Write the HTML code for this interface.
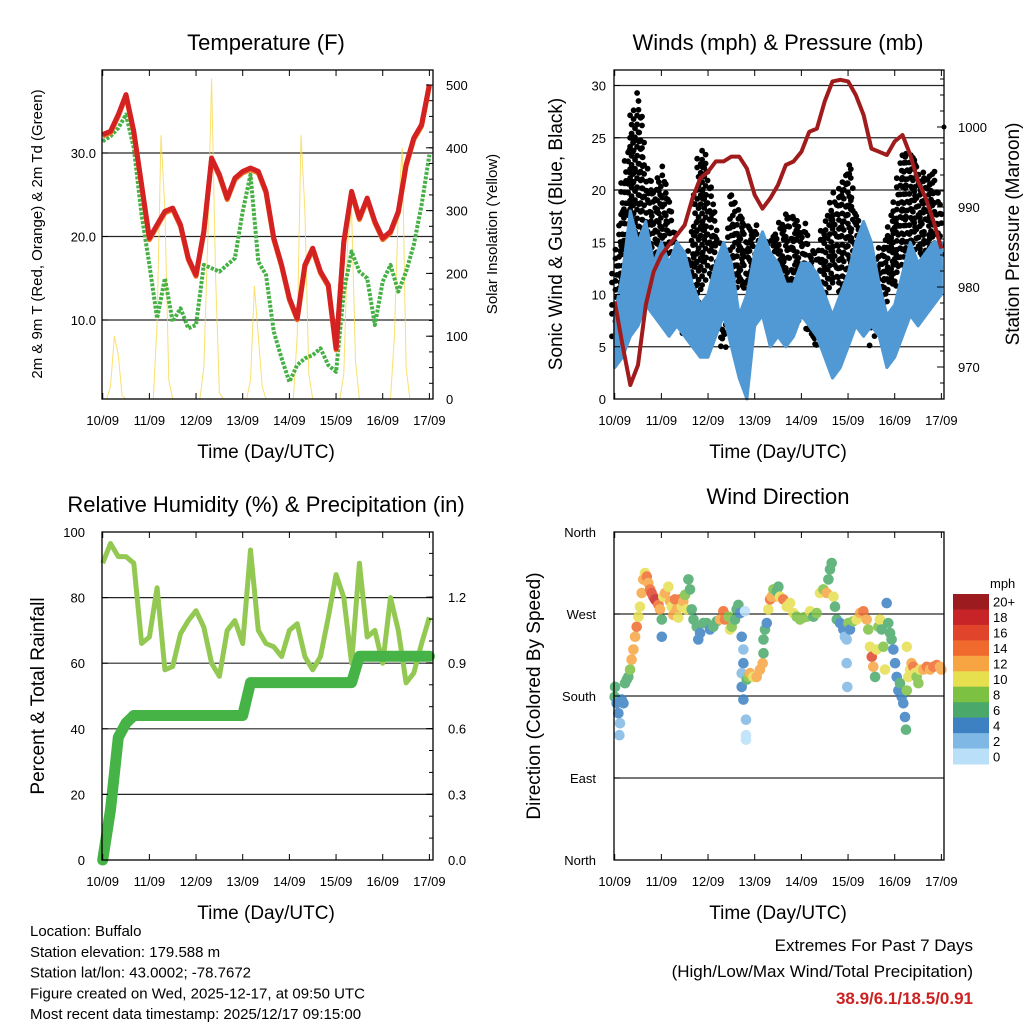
<!DOCTYPE html>
<html><head><meta charset="utf-8"><style>
body{margin:0;background:#fff}
svg{display:block;font-family:"Liberation Sans",sans-serif}
</style></head><body>
<svg id="c" width="1024" height="1024" viewBox="0 0 1024 1024"></svg>
<script>
// ---- data (4-hourly from 10/09 00 UTC) ----
const dayLabels=["10/09","11/09","12/09","13/09","14/09","15/09","16/09","17/09"];
const tempF=[32.2,32.6,34.6,37,32.6,26.2,19.8,21.4,23,23.4,21.4,17.4,15.4,20.6,29.4,27.4,24.6,27,27.8,28.2,27.8,25.4,19.8,16.6,12.6,10.2,16.6,18.6,15.8,14.2,6.6,19.4,25.4,22.2,24.6,21.8,19.8,20.6,23,28.6,31.8,33.4,38.2];
const dewF=[31.4,32,33,34.6,30.6,22.6,16.6,10.2,15,9.8,11.4,9,9.4,16.6,16.2,15.8,16.6,17.4,23,27.4,17,15.4,8.6,5.4,2.6,4.6,5.4,5.8,6.6,4.6,3.8,13.4,18.2,15.8,15,9.4,14.6,16.6,13.4,15.8,19,23.8,29.8];
// solar every 2 hours
const solar=[0,0,20,100,70,5,0,0,0,0,0,0, 0,0,120,420,300,30,0,0,0,0,0,0, 0,0,50,250,510,200,10,0,0,0,0,0, 0,0,30,180,100,20,0,0,0,0,0,0, 0,0,100,420,300,40,0,0,0,0,0,0, 0,0,40,250,300,60,0,0,0,0,0,0, 0,0,0,100,300,400,50,0,0,0,0,0, 0];
const pressure=[978.2,972.75,967.75,970.25,977.75,981.9,984,985.25,986.5,987.75,991.1,993.6,994.4,995.7,995.7,996.3,996.3,994.8,991.5,989.8,991.1,992.75,995.25,995.7,996.9,999.4,999.8,1003.2,1005.7,1005.9,1005.7,1004,1001.5,997.3,996.9,996.5,998.2,999,996.5,993.2,991.1,988.2,984.8];
const windLo=[3,4,6,7,9,8,7,6,7,6,5,4,4,6,8,5,2,0,7,8,5,6,5,6,8,7,6,4,2,3,5,7,6,7,6,3,4,6,8,7,8,9,10];
const windHi=[8,12,18,15,17,13,15,13,15,14,11,9,10,13,15,13,8,10,14,16,14,13,11,11,13,13,12,10,8,10,12,15,17,15,11,8,9,12,15,13,14,15,15];
const gustLo=[6,8,12,15,12,10,10,9,7,6,7,10,13,10,4,9,11,10,9,8,7,8,9,7,8,6,5,9,12,10,7,7,9,5,8,10,11,13,15,14,13,14,12];
const gustHi=[12,20,26,29,22,20,22,19,14,12,17,24,22,17,10,20,18,16,17,14,15,16,18,17,17,15,13,17,19,21,23,18,16,12,14,16,19,23,24,22,21,22,18];
const rh=[90.5,96.5,92.5,92.5,90.5,66,68,83,58,59,69,73,76,71,60,56,70,73,66,94.5,70,66,65,62,70,72,62,58,62,74,87,80,60,90.5,68,70,60,80,70,54,57,66,74];
const rain=[0,0.23,0.56,0.625,0.66,0.66,0.66,0.66,0.66,0.66,0.66,0.66,0.66,0.66,0.66,0.66,0.66,0.66,0.66,0.81,0.81,0.81,0.81,0.81,0.81,0.81,0.81,0.81,0.81,0.81,0.81,0.81,0.81,0.93,0.93,0.93,0.93,0.93,0.93,0.93,0.93,0.93,0.93];
const dirHours=[0,0.2,1.0,1.9,2.7,3.6,4.5,2.4,5.3,6.2,7.0,7.9,8.7,9.6,10.5,11.3,12.2,13.0,13.9,14.7,15.6,16.5,17.3,18.2,19.0,19.9,20.7,21.6,22.5,23.3,24.2,24.2,25.0,25.9,27.6,28.5,29.3,30.2,31.0,31.9,32.7,33.6,34.5,35.3,36.2,37.0,37.9,38.7,39.6,40.5,42.2,43.0,43.9,45.6,47.3,49.0,50.7,52.5,54.2,55.9,56.7,58.5,59.3,60.2,61.9,62.7,63.6,64.5,65.3,66.2,67.0,66.2,65.3,65.3,66.2,67.5,67.5,67.5,67.9,68.7,69.6,71.3,73.0,74.7,76.1,76.5,76.5,77.3,78.2,79.0,79.9,80.7,81.6,82.5,83.3,84.2,85.0,86.7,88.5,90.2,91.9,93.6,95.3,97.0,98.7,100.5,102.2,103.9,105.6,107.3,109.0,109.9,110.7,111.6,112.5,113.3,114.2,115.9,117.6,118.4,119.3,120.2,119.3,119.6,121.0,122.7,124.4,126.2,127.9,129.6,130.4,131.3,132.2,133.0,133.9,134.7,135.6,136.4,137.3,138.2,139.0,139.9,140.7,141.6,142.4,143.3,144.2,145.0,145.9,146.7,147.6,148.4,149.3,149.8,150.2,151.0,151.9,152.7,153.6,154.4,155.3,156.2,157.0,158.7,160.5,162.2,163.9,165.6,167.3,168,150.2];
const dirDeg=[179,190,172,161,150,176,172,137,194,198,201,209,220,231,245,256,267,278,293,308,315,311,304,297,293,289,286,284,280,275,264,245,289,293,300,284,278,269,286,275,266,286,278,284,291,275,308,297,275,264,256,242,249,260,260,253,256,262,264,273,264,267,253,256,264,275,280,271,245,231,273,216,205,190,176,154,137,132,198,201,205,201,201,209,216,227,242,253,260,275,286,289,297,289,295,300,289,286,278,282,271,267,264,266,267,273,267,271,293,297,293,308,319,326,289,278,264,260,253,245,242,260,216,190,253,262,264,271,273,264,253,234,223,212,201,231,256,264,253,234,209,282,260,249,242,231,216,201,186,194,179,172,157,143,186,201,209,216,212,205,201,194,209,209,212,209,212,214,212,209,234];
const dirSpeed=[6,6,4,4,3,4,4,2,6,6,7,9,13,13,12,14,10,10,12,12,10,15,13,15,16,17,18,19,15,12,7,4,11,12,10,13,10,12,14,12,10,15,11,12,9,10,6,7,7,7,6,4,4,6,6,4,6,7,13,15,15,9,10,9,6,6,6,4,4,3,1,4,3,4,4,3,1,0,7,8,12,10,12,12,13,7,7,6,4,10,15,12,9,12,6,6,10,15,10,11,10,8,8,8,8,10,7,8,10,9,12,7,6,6,10,6,6,4,5,2,2,8,2,2,4,8,10,12,14,12,8,10,16,13,7,10,9,10,7,8,10,4,6,7,6,4,4,4,4,6,4,4,4,6,8,10,11,13,14,10,9,8,10,13,14,13,14,15,13,12,10];
const speedBins=["0","2","4","6","8","10","12","14","16","18","20+"];
const speedColors=["#b9e0f8","#7fb8e4","#3d81c3","#4aa96a","#7dc142","#e6e04f","#f7a542","#f06a2e","#e0452c","#c72428","#9c1b1f"];

const NS="http://www.w3.org/2000/svg";
const svg=document.getElementById('c');
function el(tag,attrs,parent,txt){const e=document.createElementNS(NS,tag);for(const k in attrs)e.setAttribute(k,attrs[k]);if(txt!==undefined)e.textContent=txt;(parent||svg).appendChild(e);return e;}
function text(x,y,s,size,anchor,extra){const t=el('text',Object.assign({x:x,y:y,'font-size':size,'text-anchor':anchor||'middle',fill:'#000'},extra||{}),svg,s);return t;}
const hours4=tempF.map((_,i)=>i*4);

function panel(name){
  const g=el('g',{});
  
  
  return g;
}
function frame(g,x0,x1,y0,y1,dx0){
  el('rect',{x:x0,y:y0,width:x1-x0,height:y1-y0,fill:'none',stroke:'#000','stroke-width':1.3},g);
  for(let d=0;d<8;d++){const x=dx0+d*46.67;
    el('line',{x1:x,x2:x,y1:y1,y2:y1-6,stroke:'#000'},g);
    el('line',{x1:x,x2:x,y1:y0,y2:y0+6,stroke:'#000'},g);
    const t=text(x,y1+26,dayLabels[d],13);
    
    
  }
}
function grid(g,x0,x1,y){el('line',{x1:x0,x2:x1,y1:y,y2:y,stroke:'#000','stroke-width':1.2,opacity:0.85},g);}
function pathD(xs,ys){return xs.map((x,i)=>(i?'L':'M')+x.toFixed(1)+','+ys[i].toFixed(1)).join('');}

// ===== Panel 1 Temperature =====
{
const X0=102,X1=433,Y0=70,Y1=399,DX=102.7;
const xs=h=>DX+h/24*46.67;
const yT=v=>320-(v-10)*8.35;
const yS=v=>399-v*0.628;
const g=panel('temperature-chart');
[10,20,30].forEach(v=>grid(g,X0,X1,yT(v)));
const sh=solar.map((_,i)=>i*2);
const sp=el('path',{d:pathD(sh.map(xs),solar.map(yS)),fill:'none',stroke:'#f7d84a','stroke-width':1,opacity:0.8},g);


const dp=el('path',{d:pathD(hours4.map(xs),dewF.map(yT)),fill:'none',stroke:'#45b044','stroke-width':4,'stroke-dasharray':'3 1.5','stroke-linejoin':'round'},g);


const op=el('path',{d:pathD(hours4.map(xs),tempF.map(v=>yT(v)+1.5)),fill:'none',stroke:'#f0782a','stroke-width':5,'stroke-linejoin':'round'},g);


const tp=el('path',{d:pathD(hours4.map(xs),tempF.map(yT)),fill:'none',stroke:'#d42121','stroke-width':5,'stroke-linejoin':'round'},g);


frame(g,X0,X1,Y0,Y1,DX);
[10,20,30].forEach(v=>{const t=text(96,yT(v)+5,v.toFixed(1),13,'end');el('line',{x1:X0,x2:X0+6,y1:yT(v),y2:yT(v),stroke:'#000'},g);});
[0,100,200,300,400,500].forEach(v=>{const t=text(446,yS(v)+5,String(v),13,'start');el('line',{x1:X1,x2:X1-7,y1:yS(v),y2:yS(v),stroke:'#000'},g);});
for(let v=25;v<=500;v+=25)el('line',{x1:X1,x2:X1-4,y1:yS(v),y2:yS(v),stroke:'#000'},g);
let t=text(266,50,'Temperature (F)',22);
t=text(266,458,'Time (Day/UTC)',19);
t=text(0,0,'2m & 9m T (Red, Orange) & 2m Td (Green)',15,'middle',{transform:'translate(42,234) rotate(-90)'});
t=text(0,0,'Solar Insolation (Yellow)',15,'middle',{transform:'translate(497,234) rotate(-90)'});
}

// ===== Panel 2 Winds =====
{
const X0=614,X1=944,Y0=70,Y1=399,DX=614.7;
const xs=h=>DX+h/24*46.67;
const yW=v=>399-v*10.45;
const yP=v=>127+(1000-v)*8.0;
const g=panel('winds-pressure-chart');
[5,10,15,20,25,30].forEach(v=>grid(g,X0,X1,yW(v)));
const gg=el('g',{fill:'#000'},g);


for(let i=0;i<gustLo.length-1;i++){
  for(let s=0;s<6;s++){const f=s/6;
    const lo=gustLo[i]+(gustLo[i+1]-gustLo[i])*f, hi=gustHi[i]+(gustHi[i+1]-gustHi[i])*f;
    const h=(i+f)*4;
    for(let k=0;;k++){
      const v=lo+k*1.5+((i*7+s*3+k*5)%10)/10*1.3;
      if(v>hi+0.3)break;
      const dx=(((i*3+s*11+k*7)%7)-3)*0.9;
      el('circle',{cx:(xs(h)+dx).toFixed(1),cy:yW(v).toFixed(1),r:2.9},gg);
    }
  }
}
const hb=hours4.map(xs);
const band='M'+hb.map((x,i)=>x.toFixed(1)+','+yW(windHi[i]).toFixed(1)).join('L')+'L'+hb.map((x,i)=>x.toFixed(1)+','+yW(windLo[i]).toFixed(1)).reverse().join('L')+'Z';
const wb=el('path',{d:band,fill:'#5199d4',stroke:'#5199d4','stroke-width':3,'stroke-linejoin':'round'},g);


const pp=el('path',{d:pathD(hb,pressure.map(yP)),fill:'none',stroke:'#a01c1c','stroke-width':4,'stroke-linejoin':'round'},g);


frame(g,X0,X1,Y0,Y1,DX);
[0,5,10,15,20,25,30].forEach(v=>{const t=text(606,yW(v)+5,String(v),13,'end');el('line',{x1:X0,x2:X0+6,y1:yW(v),y2:yW(v),stroke:'#000'},g);});
[970,980,990,1000].forEach(v=>{const t=text(958,yP(v)+5,String(v),13,'start');el('line',{x1:X1,x2:X1-7,y1:yP(v),y2:yP(v),stroke:'#000'},g);});
for(let v=968;v<=1006;v+=2)el('line',{x1:X1,x2:X1-4,y1:yP(v),y2:yP(v),stroke:'#000'},g);
el('circle',{cx:944,cy:yP(1000),r:2.5,fill:'#000'},g);
let t=text(778,50,'Winds (mph) & Pressure (mb)',22);
t=text(778,458,'Time (Day/UTC)',19);
t=text(0,0,'Sonic Wind & Gust (Blue, Black)',19,'middle',{transform:'translate(562,234) rotate(-90)'});
t=text(0,0,'Station Pressure (Maroon)',19,'middle',{transform:'translate(1019,234) rotate(-90)'});
}

// ===== Panel 3 RH & Precip =====
{
const X0=102,X1=433,Y0=532,Y1=860,DX=102.7;
const xs=h=>DX+h/24*46.67;
const yR=v=>860-v*3.28;
const yPr=v=>860-v*219;
const g=panel('humidity-precip-chart');
[20,40,60,80].forEach(v=>grid(g,X0,X1,yR(v)));
const rp=el('path',{d:pathD(hours4.map(xs),rh.map(yR)),fill:'none',stroke:'#93c952','stroke-width':5,'stroke-linejoin':'round'},g);


const pr=el('path',{d:pathD(hours4.map(xs),rain.map(yPr)),fill:'none',stroke:'#46b346','stroke-width':11,'stroke-linejoin':'round','stroke-linecap':'round'},g);


frame(g,X0,X1,Y0,Y1,DX);
[0,20,40,60,80,100].forEach(v=>{const t=text(85,yR(v)+5,String(v),13,'end');el('line',{x1:X0,x2:X0+6,y1:yR(v),y2:yR(v),stroke:'#000'},g);});
[0,0.3,0.6,0.9,1.2].forEach(v=>{const t=text(448,yPr(v)+5,v.toFixed(1),13,'start');el('line',{x1:X1,x2:X1-7,y1:yPr(v),y2:yPr(v),stroke:'#000'},g);});
for(let v=0.1;v<1.5;v+=0.1)el('line',{x1:X1,x2:X1-4,y1:yPr(v),y2:yPr(v),stroke:'#000'},g);
let t=text(266,512,'Relative Humidity (%) & Precipitation (in)',22);
t=text(266,919,'Time (Day/UTC)',19);
t=text(0,0,'Percent & Total Rainfall',19,'middle',{transform:'translate(44,696) rotate(-90)'});
}

// ===== Panel 4 Wind Direction =====
{
const X0=614,X1=944,Y0=532,Y1=860,DX=614.7;
const xs=h=>DX+h/24*46.67;
const yD=v=>860-v*(328/360);
const g=panel('wind-direction-chart');
[90,180,270].forEach(v=>grid(g,X0,X1,yD(v)));
const pg=el('g',{opacity:0.85},g);


const col=s=>speedColors[Math.min(10,Math.floor(s/2))];
dirHours.forEach((h,i)=>{
  el('circle',{cx:xs(h).toFixed(1),cy:yD(dirDeg[i]).toFixed(1),r:5.3,fill:col(dirSpeed[i])},pg);
});
frame(g,X0,X1,Y0,Y1,DX);
const dl=["North","West","South","East","North"];
[360,270,180,90,0].forEach((v,i)=>{const t=text(596,yD(v)+5,dl[i],13,'end');el('line',{x1:X0,x2:X0+6,y1:yD(v),y2:yD(v),stroke:'#000'},g);});
const cb=el('g',{},svg);


const bh=170/11;
for(let k=0;k<11;k++){
  const idx=10-k;
  el('rect',{x:953,y:(594+k*bh).toFixed(1),width:36,height:(bh+0.5).toFixed(1),fill:speedColors[idx]},cb);
  const t=text(993,594+k*bh+bh/2+5,speedBins[idx],13,'start');
  
  
}
let t=text(990,588,'mph',13,'start');
t=text(778,504,'Wind Direction',22);
t=text(778,919,'Time (Day/UTC)',19);
t=text(0,0,'Direction (Colored By Speed)',19,'middle',{transform:'translate(540,696) rotate(-90)'});
}

// ===== footer text =====
const info=["Location: Buffalo","Station elevation: 179.588 m","Station lat/lon: 43.0002; -78.7672","Figure created on Wed, 2025-12-17, at 09:50 UTC","Most recent data timestamp: 2025/12/17 09:15:00"];
info.forEach((s,i)=>{const t=text(30,936+i*20.8,s,15,'start');});
let t=text(973,951,'Extremes For Past 7 Days',17,'end');
t=text(973,977,'(High/Low/Max Wind/Total Precipitation)',17,'end');
t=text(973,1004,'38.9/6.1/18.5/0.91',17,'end',{fill:'#cc2222','font-weight':'bold'});
</script>
</body></html>
